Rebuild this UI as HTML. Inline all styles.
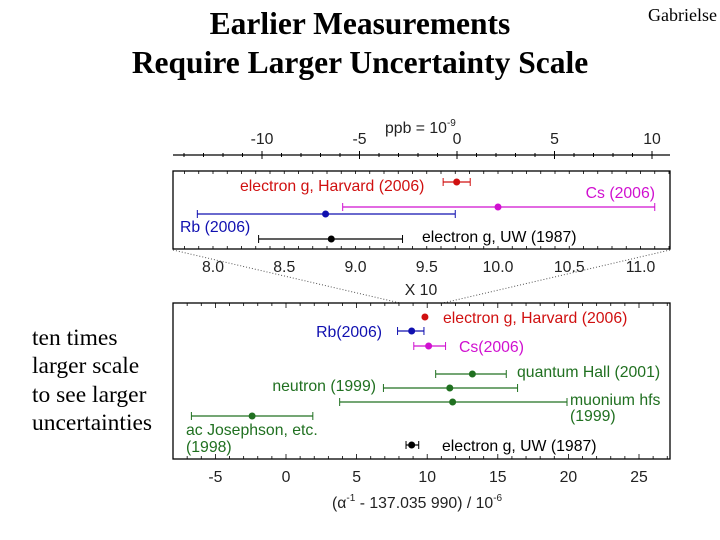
<!DOCTYPE html>
<html><head><meta charset="utf-8"><style>
body{margin:0;background:#fff;width:720px;height:540px;overflow:hidden}
svg{display:block}
.s{font-family:"Liberation Sans",sans-serif;font-size:15.8px}
.t{font-family:"Liberation Serif",serif}
</style></head><body>
<svg id="c" width="720" height="540">
<text class="t" x="360" y="34" font-size="31.5" font-weight="bold" text-anchor="middle">Earlier Measurements</text>
<text class="t" x="360" y="73" font-size="31.5" font-weight="bold" text-anchor="middle">Require Larger Uncertainty Scale</text>
<text class="t" x="648" y="21" font-size="18">Gabrielse</text>
<g class="t" font-size="23.5">
<text x="32" y="345">ten times</text><text x="32" y="373">larger scale</text><text x="32" y="402">to see larger</text><text x="32" y="430">uncertainties</text></g>
<g id="g"></g>
</svg>
<script>
const ppbTicks=[-10,-5,0,5,10];
const topTicks=[8.0,8.5,9.0,9.5,10.0,10.5,11.0];
const botTicks=[-5,0,5,10,15,20,25];
const topNames=["electron g, Harvard (2006)","Cs (2006)","Rb (2006)","electron g, UW (1987)"];
const topVal=[9.71,10.0,8.79,8.83];
const topLo=[9.615,8.91,7.89,8.32];
const topHi=[9.805,11.1,9.70,9.33];
const botNames=["electron g, Harvard (2006)","Rb(2006)","Cs(2006)","quantum Hall (2001)","neutron (1999)","muonium hfs","ac Josephson, etc."];
const botVal=[9.84,8.9,10.1,13.2,11.6,11.8,-2.4,8.9];
const botLo=[9.84,7.9,9.05,10.6,6.9,3.8,-6.7,8.5];
const botHi=[9.84,9.77,11.3,15.6,16.4,19.9,1.9,9.4];
const NS="http://www.w3.org/2000/svg",g=document.getElementById('g');
const xp=v=>457+v*19.5, xt=v=>213+(v-8)*142.5, xb=v=>286+v*14.12;
function el(t,a,txt){const e=document.createElementNS(NS,t);for(const k in a)e.setAttribute(k,a[k]);if(txt!==undefined)e.textContent=txt;g.appendChild(e);return e;}
let e=el('line',{x1:173,y1:155,x2:670,y2:155,stroke:'#000','stroke-width':1.3});

for(let v=-14;v<=10;v++){if(xp(v)<173)continue;const big=v%5==0;el('line',{x1:xp(v),y1:155-(big?4:2),x2:xp(v),y2:155+(big?4:2),stroke:'#000'});}
ppbTicks.forEach(v=>{e=el('text',{x:xp(v),y:144,'text-anchor':'middle',class:'s',fill:'#222'},String(v));
});
e=el('text',{x:385,y:133,class:'s',fill:'#222'});
e.innerHTML='ppb = 10<tspan font-size="10" dy="-7">-9</tspan>';

e=el('rect',{x:173,y:171,width:497,height:78,fill:'none',stroke:'#000','stroke-width':1.3});

for(let v=7.8;v<=11.2;v+=0.1){const x=xt(v);if(x<173||x>670)continue;el('line',{x1:x,y1:249,x2:x,y2:246,stroke:'#000','stroke-width':0.8});el('line',{x1:x,y1:171,x2:x,y2:174,stroke:'#000','stroke-width':0.8});}
topTicks.forEach(v=>{e=el('text',{x:xt(v),y:272,'text-anchor':'middle',class:'s',fill:'#222'},v.toFixed(1));
});
el('text',{x:421,y:295,'text-anchor':'middle',class:'s',fill:'#222'},'X 10');
el('line',{x1:173,y1:250,x2:400,y2:303,stroke:'#555','stroke-dasharray':'1,2'});
el('line',{x1:670,y1:250,x2:443,y2:303,stroke:'#555','stroke-dasharray':'1,2'});
const tc=['#d01010','#d010d0','#1010b0','#000'],ty=[182,207,214,239];
const tl=[[240,191,'start'],[655,198,'end'],[180,232,'start'],[422,242,'start']];
topNames.forEach((n,i)=>{
 e=el('line',{x1:xt(topLo[i]),y1:ty[i],x2:xt(topHi[i]),y2:ty[i],stroke:tc[i],'stroke-width':1.2});
 
 [topLo[i],topHi[i]].forEach(v=>el('line',{x1:xt(v),y1:ty[i]-4,x2:xt(v),y2:ty[i]+4,stroke:tc[i]}));
 e=el('circle',{cx:xt(topVal[i]),cy:ty[i],r:3.5,fill:tc[i]});
 
 e=el('text',{x:tl[i][0],y:tl[i][1],'text-anchor':tl[i][2],class:'s',fill:tc[i]},n);
 
});
e=el('rect',{x:173,y:303,width:497,height:156,fill:'none',stroke:'#000','stroke-width':1.3});

for(let v=-8;v<=27;v++){const x=xb(v);if(x<173||x>670)continue;const L=v%5==0?5:3;el('line',{x1:x,y1:459,x2:x,y2:459-L,stroke:'#000','stroke-width':0.8});el('line',{x1:x,y1:303,x2:x,y2:303+L,stroke:'#000','stroke-width':0.8});}
botTicks.forEach(v=>{e=el('text',{x:xb(v),y:482,'text-anchor':'middle',class:'s',fill:'#222'},String(v));
});
e=el('text',{x:332,y:508,class:'s',fill:'#222'});
e.innerHTML='(α<tspan font-size="10" dy="-7">-1</tspan><tspan dy="7"> - 137.035 990) / 10</tspan><tspan font-size="10" dy="-7">-6</tspan>';

const G='#207020',bc=['#d01010','#1010b0','#d010d0',G,G,G,G,'#000'],by=[317,331,346,374,388,402,416,445];
const bl=[[443,323,'start'],[382,337,'end'],[459,352,'start'],[517,377,'start'],[376,391,'end'],[570,405,'start'],[186,435,'start'],[442,451,'start']];
const allNames=botNames.concat(["electron g, UW (1987)"]);
allNames.forEach((n,i)=>{
 if(botHi[i]>botLo[i]){
 e=el('line',{x1:xb(botLo[i]),y1:by[i],x2:xb(botHi[i]),y2:by[i],stroke:bc[i],'stroke-width':1.2});
 
 [botLo[i],botHi[i]].forEach(v=>el('line',{x1:xb(v),y1:by[i]-4,x2:xb(v),y2:by[i]+4,stroke:bc[i]}));}
 e=el('circle',{cx:xb(botVal[i]),cy:by[i],r:3.5,fill:bc[i]});
 
 e=el('text',{x:bl[i][0],y:bl[i][1],'text-anchor':bl[i][2],class:'s',fill:bc[i]},n);
 
});
el('text',{x:570,y:421,class:'s',fill:G},'(1999)');
el('text',{x:186,y:452,class:'s',fill:G},'(1998)');
</script>
</body></html>
